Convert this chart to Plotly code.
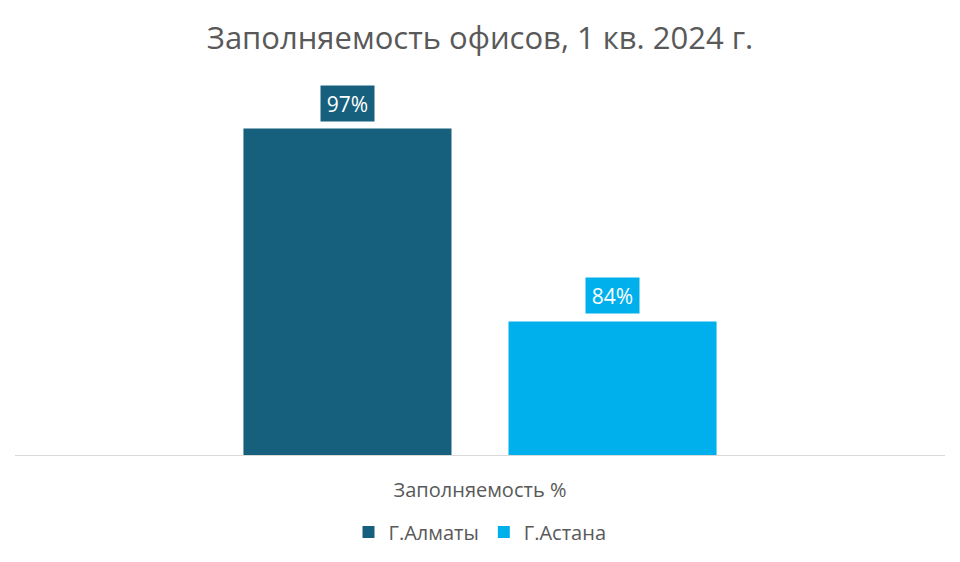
import plotly.graph_objects as go

category = ["Заполняемость %"]
cities = ["Г.Алматы", "Г.Астана"]
values = [97, 84]
labels = ["97%", "84%"]
colors = ["#17607d", "#00b0ec"]

fig = go.Figure()
for city, v, c in zip(cities, values, colors):
    fig.add_trace(go.Bar(x=category, y=[v], name=city, marker_color=c, marker_line_width=0))

shifts = [-132.5, 132.5]
for v, lab, c, s in zip(values, labels, colors, shifts):
    fig.add_annotation(x=category[0], y=v, text=lab, showarrow=False, xshift=s, yshift=7,
                       yanchor="bottom", bgcolor=c, font=dict(color="white", size=21, family="Open Sans"),
                       borderpad=4, width=45, height=27)

fig.update_layout(
    width=960, height=562,
    paper_bgcolor="white", plot_bgcolor="white",
    margin=dict(l=7, r=23, t=76, b=115),
    title=dict(text="Заполняемость офисов, 1 кв. 2024 г.", x=0.4917, xanchor="center", y=0.947, yanchor="middle",
               font=dict(size=31, color="#595959", family="Open Sans")),
    barmode="group", bargap=0.43, bargroupgap=0.215,
    font=dict(family="Open Sans", color="#595959"),
    xaxis=dict(showline=True, linecolor="#d9d9d9", linewidth=1, showgrid=False, ticks="",
               tickfont=dict(size=20, color="#595959"), ticklabelstandoff=17),
    yaxis=dict(range=[75, 100], visible=False, showgrid=False),
    legend=dict(orientation="h", x=0.5, xanchor="center", y=-0.2075, yanchor="middle",
                font=dict(size=20, color="#595959"), itemwidth=30, traceorder="normal"),
    showlegend=True,
)
fig.write_html("out.html")
